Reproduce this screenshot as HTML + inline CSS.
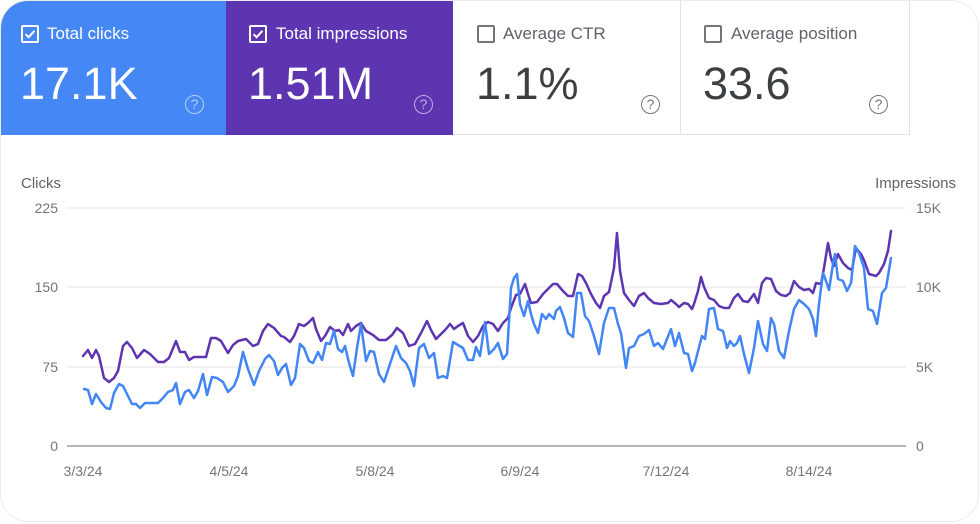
<!DOCTYPE html>
<html><head><meta charset="utf-8">
<style>
html,body{margin:0;padding:0;background:#fff;}
body{width:980px;height:524px;overflow:hidden;position:relative;font-family:"Liberation Sans",Arial,sans-serif;}
.frame{position:absolute;left:0;top:0;width:977px;height:520px;border:1px solid #ececec;border-radius:28px;overflow:hidden;background:#fff;}
.card{position:absolute;top:0;height:134px;box-sizing:border-box;}
.c1{left:0;width:225px;background:#4587f4;color:#fff;}
.c2{left:225px;width:227px;background:#5e35b1;color:#fff;}
.c3{left:452px;width:228px;background:#fff;border-right:1px solid #e3e3e3;border-bottom:1px solid #e3e3e3;color:#5f6368;}
.c4{left:680px;width:229px;background:#fff;border-right:1px solid #e3e3e3;border-bottom:1px solid #e3e3e3;color:#5f6368;}
.cb{position:absolute;left:20px;top:24px;width:14px;height:14px;border:2px solid #fff;border-radius:2px;}
.c3 .cb,.c4 .cb{border-color:#757575;}
.lbl{position:absolute;left:46px;top:23px;font-size:17px;line-height:20px;white-space:nowrap;}
.num{position:absolute;left:19px;top:57px;font-size:45px;line-height:52px;white-space:nowrap;}
.c3 .num,.c4 .num{color:#3c4043;}
.help{position:absolute;left:184px;top:94px;width:17px;height:17px;border:1.5px solid rgba(255,255,255,0.6);border-radius:50%;color:rgba(255,255,255,0.6);font-size:14px;line-height:17px;text-align:center;}
.c3 .help,.c4 .help{border-color:#757575;color:#757575;}
</style></head><body>
<div class="frame">
<div class="card c1">
 <div class="cb"><svg width="14" height="14" viewBox="0 0 14 14" style="position:absolute;left:0;top:0"><path d="M2.5 7.2 L5.6 10.2 L11.5 3.8" fill="none" stroke="#fff" stroke-width="2"/></svg></div>
 <div class="lbl">Total clicks</div>
 <div class="num">17.1K</div>
 <div class="help">?</div>
</div>
<div class="card c2">
 <div class="cb" style="left:23px"><svg width="14" height="14" viewBox="0 0 14 14" style="position:absolute;left:0;top:0"><path d="M2.5 7.2 L5.6 10.2 L11.5 3.8" fill="none" stroke="#fff" stroke-width="2"/></svg></div>
 <div class="lbl" style="left:50px">Total impressions</div>
 <div class="num" style="left:22px">1.51M</div>
 <div class="help" style="left:188px">?</div>
</div>
<div class="card c3">
 <div class="cb" style="left:24px"></div>
 <div class="lbl" style="left:50px">Average CTR</div>
 <div class="num" style="left:23px">1.1%</div>
 <div class="help" style="left:188px">?</div>
</div>
<div class="card c4">
 <div class="cb" style="left:23px"></div>
 <div class="lbl" style="left:50px">Average position</div>
 <div class="num" style="left:22px">33.6</div>
 <div class="help" style="left:188px">?</div>
</div>

<svg width="980" height="524" style="position:absolute;left:0;top:0" font-family="Liberation Sans, Arial, sans-serif">
 <text x="20" y="187" font-size="15" fill="#5f6368">Clicks</text>
 <text x="955" y="187" font-size="15" fill="#5f6368" text-anchor="end">Impressions</text>
 <g stroke="#eeeeee" stroke-width="1.5">
  <line x1="66" y1="207" x2="905" y2="207"/>
  <line x1="66" y1="286" x2="905" y2="286"/>
  <line x1="66" y1="366" x2="905" y2="366"/>
 </g>
 <line x1="66" y1="445" x2="905" y2="445" stroke="#9e9e9e" stroke-width="1.5"/>
 <g font-size="14" fill="#757575" text-anchor="end">
  <text x="57" y="212">225</text>
  <text x="57" y="291">150</text>
  <text x="57" y="371">75</text>
  <text x="57" y="450">0</text>
 </g>
 <g font-size="14" fill="#757575">
  <text x="915" y="212">15K</text>
  <text x="915" y="291">10K</text>
  <text x="915" y="371">5K</text>
  <text x="915" y="450">0</text>
 </g>
 <g font-size="14" fill="#757575" text-anchor="middle">
  <text x="82" y="475">3/3/24</text>
  <text x="228" y="475">4/5/24</text>
  <text x="374" y="475">5/8/24</text>
  <text x="519" y="475">6/9/24</text>
  <text x="665" y="475">7/12/24</text>
  <text x="808" y="475">8/14/24</text>
 </g>
 <polyline fill="none" stroke="#5e35b1" stroke-width="2.5" stroke-linejoin="round" stroke-linecap="round" points="82,355 87,349 91,357 95,349 98,355 103,377 108,381 113,377 117,370 122,345 126,341 131,347 136,357 143,349 149,353 157,361 163,361 168,357 175,340 179,351 184,351 188,359 193,356 205,356 210,337 215,337 220,340 227,352 232,344 237,340 245,338 252,345 257,343 262,330 267,323 273,327 280,335 283,336 289,341 293,335 298,323 303,325 307,322 312,317 315,328 320,340 324,335 329,326 334,330 338,329 342,334 347,323 350,330 355,325 360,322 365,330 372,334 378,339 385,339 391,334 396,327 402,332 408,345 414,343 420,332 426,320 430,329 435,338 440,333 445,328 449,323 453,328 457,325 462,322 467,335 472,341 477,335 482,325 487,321 492,323 497,330 502,322 507,317 510,307 515,294 519,293 524,283 527,293 530,302 536,301 542,293 547,288 552,283 556,283 562,290 567,295 572,295 577,273 581,275 585,282 590,293 595,302 599,307 603,295 608,291 613,267 616,232 619,270 623,292 628,299 633,305 638,295 643,292 647,297 653,302 660,303 667,302 670,299 675,303 678,306 683,302 687,303 691,308 693,303 697,290 700,276 703,286 708,297 713,299 718,305 723,307 728,307 733,297 737,293 742,300 747,301 753,293 757,302 761,282 765,277 770,278 775,290 780,294 785,295 789,292 793,280 798,286 803,289 808,288 812,292 815,282 820,283 823,267 827,242 830,257 833,265 837,253 842,262 847,267 851,269 855,247 860,253 863,259 868,273 875,275 878,272 883,263 887,250 890,230"/>
 <polyline fill="none" stroke="#4285f4" stroke-width="2.5" stroke-linejoin="round" stroke-linecap="round" points="83,388 87,389 91,403 95,393 100,401 105,407 109,408 113,392 118,383 122,385 127,395 131,403 135,403 139,407 144,402 157,402 162,397 167,391 172,389 175,382 179,403 184,391 188,389 193,397 197,390 202,373 206,394 211,376 216,377 222,381 227,391 233,385 237,375 242,351 247,368 253,384 258,370 264,358 268,354 273,360 277,374 281,367 285,363 290,384 294,377 299,343 303,347 308,360 312,362 317,351 321,359 325,342 329,343 333,330 337,348 341,351 344,345 348,362 352,375 356,347 360,323 365,360 369,350 373,351 378,373 383,381 388,366 395,345 400,357 405,362 409,370 413,385 418,347 423,343 428,357 433,352 437,377 442,375 446,377 452,341 457,344 462,347 467,359 472,359 475,346 479,355 484,321 488,353 493,348 497,342 502,358 506,353 510,287 513,277 516,273 519,303 523,315 527,300 530,313 533,323 537,332 541,313 545,318 548,313 553,318 555,310 559,306 563,317 567,332 572,336 576,292 580,292 584,315 588,320 593,335 598,353 603,322 608,307 613,307 617,323 620,332 625,367 628,347 633,345 638,335 643,333 648,329 653,345 657,342 662,348 666,338 670,328 674,345 678,332 683,352 687,353 691,370 694,362 697,350 701,335 704,338 708,308 713,307 717,328 722,330 726,347 729,340 733,345 736,342 739,335 743,353 748,372 753,347 757,320 762,343 766,350 770,317 773,323 778,350 783,357 788,330 793,308 798,299 803,303 808,308 812,318 815,335 818,303 822,272 825,280 828,289 832,263 834,253 837,278 842,280 846,290 850,282 854,245 858,252 863,267 867,308 872,310 876,323 881,292 885,287 890,257"/>
</svg>
</div>
</body></html>
